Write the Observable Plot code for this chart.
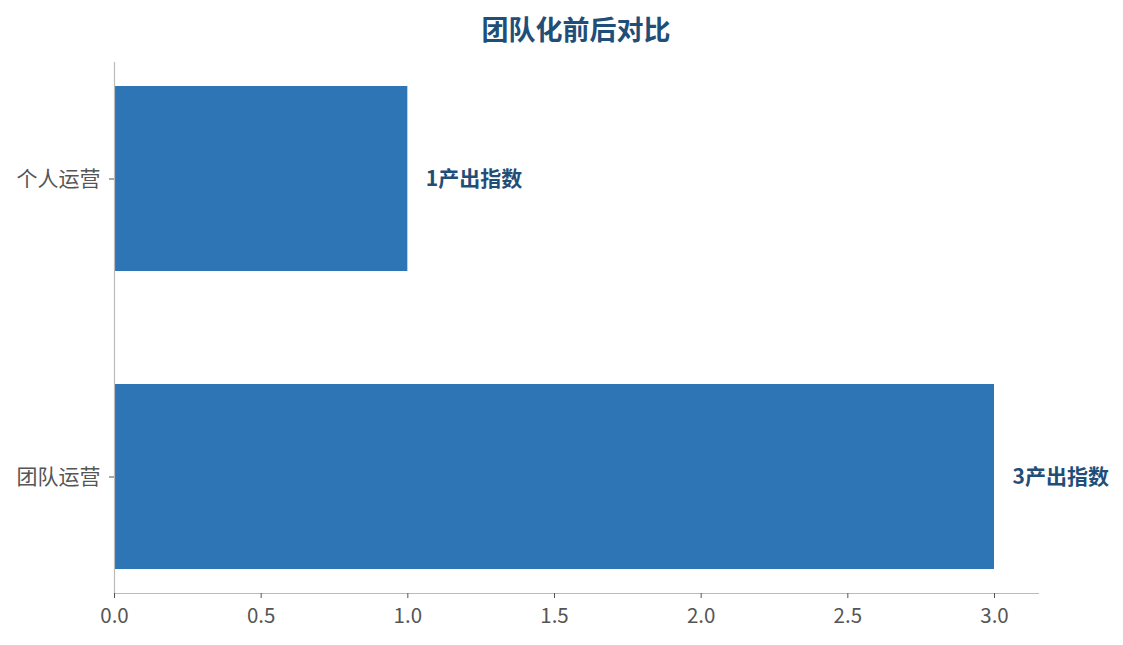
<!DOCTYPE html>
<html>
<head>
<meta charset="utf-8">
<script src="https://cdn.jsdelivr.net/npm/d3@7"></script>
<script src="https://cdn.jsdelivr.net/npm/@observablehq/plot@0.6"></script>
<style>
  html, body { margin: 0; padding: 0; background: #fff; }
  #wrap { position: relative; width: 1123px; height: 645px; font-family: "Noto Sans CJK SC", "Noto Sans", sans-serif; }
  #title { position: absolute; left: 114px; width: 924px; top: 13px; text-align: center; font-size: 27px; line-height: 1.2; font-weight: bold; color: #1f4e79; }
</style>
</head>
<body>
<div id="wrap">
  <div id="chart"></div>
  <div id="title">团队化前后对比</div>
</div>
<script>
const categories = ["个人运营", "团队运营"];
const values = [1, 3];
const labels = ["1产出指数", "3产出指数"];
const xTicks = [0, 0.5, 1, 1.5, 2, 2.5, 3];

const data = categories.map((c, i) => ({category: c, value: values[i], label: labels[i]}));

const chart = Plot.plot({
  width: 1123,
  height: 645,
  marginLeft: 114,
  marginRight: 85,
  marginTop: 62,
  marginBottom: 52,
  style: {fontFamily: "'Noto Sans CJK SC', 'Noto Sans', sans-serif", fontSize: "20px", color: "#555", background: "#fff"},
  x: {domain: [0, 3.15], ticks: xTicks, tickFormat: d3.format(".1f"), label: null},
  y: {domain: categories, paddingInner: 0.38, paddingOuter: 0.08, label: null},
  marks: [
    Plot.barX(data, {y: "category", x: "value", fill: "#2e75b6"}),
    Plot.frame({anchor: "bottom", stroke: "#bbb", strokeWidth: 1.2}),
    Plot.frame({anchor: "left", stroke: "#bbb", strokeWidth: 1.2}),
    Plot.axisX({ticks: xTicks, tickFormat: d3.format(".1f"), tickSize: 5, tickPadding: 10, stroke: "#555", fill: "#555", fontSize: 20.5, label: null}),
    Plot.axisY({tickSize: 5, tickPadding: 9, stroke: "#555", fill: "#555", fontSize: 21, label: null}),
    Plot.text(data, {y: "category", x: "value", text: "label", dx: 18, textAnchor: "start", fontWeight: "bold", fontSize: 21, fill: "#1f4e79"})
  ]
});
document.getElementById("chart").appendChild(chart);
</script>
</body>
</html>
